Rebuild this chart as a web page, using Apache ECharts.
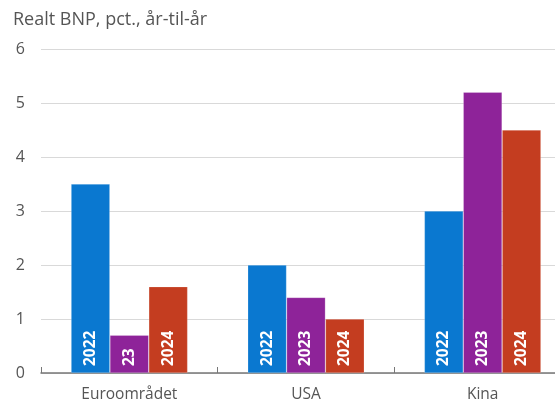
<!DOCTYPE html>
<html><head><meta charset="utf-8">
<script src="https://cdn.jsdelivr.net/npm/echarts@6/dist/echarts.min.js"></script>
<style>html,body{margin:0;padding:0;background:#fff}#c{width:555px;height:401px}</style>
</head><body><div id="c"></div>
<script>
var categories = ['Euroområdet', 'USA', 'Kina'];
var values2022 = [3.5, 2.0, 3.0];
var values2023 = [0.7, 1.4, 5.2];
var values2024 = [1.6, 1.0, 4.5];
var labels2022 = ['2022', '2022', '2022'];
var labels2023 = ['23', '2023', '2023'];
var labels2024 = ['2024', '2024', '2024'];
var yTicks = [0, 1, 2, 3, 4, 5, 6];
var title = 'Realt BNP, pct., år-til-år';

var FONT = 'Open Sans';
function mk(vals, labs, color) {
  return {
    type: 'bar',
    barGap: '0%',
    barCategoryGap: '34%',
    data: vals.map(function (v, i) { return { value: v, label: { formatter: labs[i] } }; }),
    itemStyle: { color: color, borderColor: 'rgba(255,255,255,0.35)', borderWidth: 0.6 },
    label: {
      show: true, position: 'insideBottom', rotate: 90, distance: 7,
      align: 'left', verticalAlign: 'middle',
      color: '#fff', fontWeight: 'bold', fontSize: 15.5, fontFamily: FONT
    }
  };
}
var chart = echarts.init(document.getElementById('c'), null, { renderer: 'canvas' });
chart.setOption({
  animation: false,
  title: { text: title, left: 13, top: 11, padding: 0, textStyle: { fontFamily: FONT, fontSize: 18, fontWeight: 'normal', color: '#555' } },
  grid: { left: 41, top: 49, width: 530, height: 324, containLabel: false, outerBoundsMode: 'none' },
  xAxis: {
    type: 'category', data: categories,
    axisLine: { lineStyle: { color: '#777', width: 1.5 } },
    axisTick: { show: true, inside: true, length: 6, lineStyle: { color: '#777' } },
    axisLabel: { fontFamily: FONT, fontSize: 15.5, color: '#555', margin: 14 }
  },
  yAxis: {
    type: 'value', min: yTicks[0], max: yTicks[yTicks.length - 1], interval: 1,
    axisLine: { show: false }, axisTick: { show: false },
    splitLine: { lineStyle: { color: '#d9d9d9', width: 1.2 } },
    axisLabel: { fontFamily: FONT, fontSize: 16, color: '#555', margin: 16 }
  },
  series: [
    mk(values2022, labels2022, '#0a78d0'),
    mk(values2023, labels2023, '#8e2399'),
    mk(values2024, labels2024, '#c43d20')
  ]
});
</script></body></html>
